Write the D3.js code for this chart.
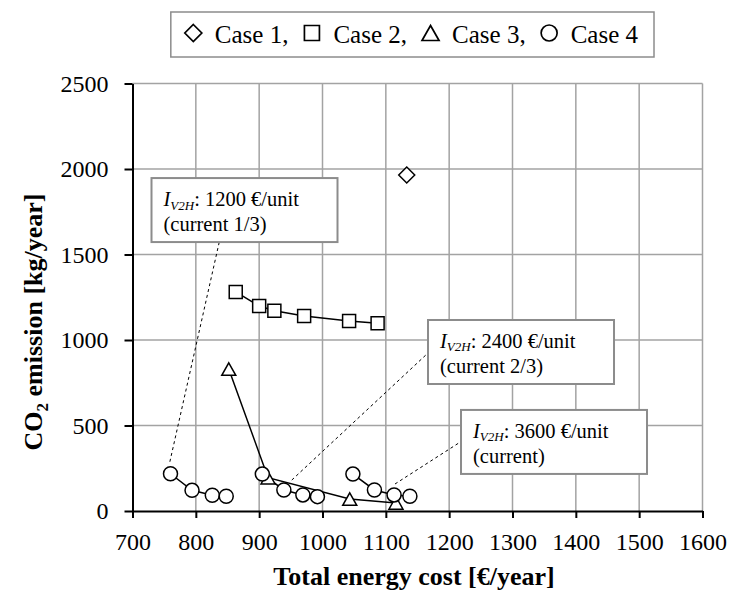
<!DOCTYPE html>
<html>
<head>
<meta charset="utf-8">
<script src="https://cdn.jsdelivr.net/npm/d3@7"></script>
<style>
  body { margin: 0; background: #fff; }
  svg { display: block; }
</style>
</head>
<body>
<svg id="chart" width="729" height="594"></svg>
<script>
// ---- data ----
const xTicks = [700, 800, 900, 1000, 1100, 1200, 1300, 1400, 1500, 1600];
const yTicks = [0, 500, 1000, 1500, 2000, 2500];

// Case 1: single reference point
const case1Cost = [1133];
const case1Co2  = [1965];

// Case 2
const case2Cost = [863, 900, 924, 971, 1042, 1087];
const case2Co2  = [1281, 1199, 1171, 1140, 1111, 1098];

// Case 3
const case3Cost = [852, 914, 1043, 1116];
const case3Co2  = [830, 195, 70, 47];

// Case 4: one run per V2H investment level
const case4Cost = [
  [760, 794, 826, 848],
  [905, 939, 969, 992],
  [1048, 1082, 1113, 1138]
];
const case4Co2 = [
  [218, 121, 92, 86],
  [216, 123, 94, 84],
  [216, 123, 94, 86]
];

const legendLabels = ["Case 1,", "Case 2,", "Case 3,", "Case 4"];
const noteCosts = ["1200", "2400", "3600"];
const noteShares = ["(current 1/3)", "(current 2/3)", "(current)"];

// ---- layout ----
const serif = "'Liberation Serif', 'Times New Roman', serif";
const svg = d3.select("#chart");
const x = d3.scaleLinear().domain([700, 1600]).range([132.5, 702.5]);
const y = d3.scaleLinear().domain([0, 2500]).range([511, 83.5]);

// box placement (data units for the corner, pixels for size) and leader ends
const noteLayout = [
  { bx: 730,    by: 1947, from: [759, 288],   to: [837, 1573] },
  { bx: 1166.6, by: 1117, from: [951.5, 181], to: [1166.6, 924] },
  { bx: 1218.7, by: 591,  from: [1114.5, 158], to: [1218.7, 406] }
];
const noteW = 186, noteH = 64;

// ---- grid ----
const grid = svg.append("g").attr("stroke", "#a3a3a3").attr("stroke-width", 1.5);
grid.selectAll("line.v").data(xTicks.slice(1)).join("line")
  .attr("x1", d => x(d)).attr("x2", d => x(d))
  .attr("y1", y(0)).attr("y2", y(2500));
grid.selectAll("line.h").data(yTicks.slice(1)).join("line")
  .attr("x1", x(700)).attr("x2", x(1600))
  .attr("y1", d => y(d)).attr("y2", d => y(d));

// ---- leader lines ----
svg.append("g").selectAll("line").data(noteLayout).join("line")
  .attr("x1", d => x(d.from[0])).attr("y1", d => y(d.from[1]))
  .attr("x2", d => x(d.to[0])).attr("y2", d => y(d.to[1]))
  .attr("stroke", "#000").attr("stroke-width", 1)
  .attr("stroke-dasharray", "3,3");

// ---- marker shapes ----
const diamondPath = r => `M0,${-r}L${r},0L0,${r}L${-r},0Z`;
const squarePath = s => `M${-s/2},${-s/2}h${s}v${s}h${-s}Z`;
const trianglePath = (w, h) => `M0,${-h/2}L${w/2},${h/2}L${-w/2},${h/2}Z`;

function drawLine(g, xs, ys) {
  const pts = xs.map((v, i) => [x(v), y(ys[i])]);
  g.append("path").attr("d", d3.line()(pts))
    .attr("fill", "none").attr("stroke", "#000").attr("stroke-width", 1.5);
}
function drawMarkers(g, xs, ys, path) {
  g.selectAll(null).data(xs.map((v, i) => [v, ys[i]])).join("path")
    .attr("transform", d => `translate(${x(d[0])},${y(d[1])})`)
    .attr("d", path)
    .attr("fill", "#fff").attr("stroke", "#000").attr("stroke-width", 1.5);
}

const series = svg.append("g");
drawLine(series, case2Cost, case2Co2);
drawLine(series, case3Cost, case3Co2);
case4Cost.forEach((run, i) => drawLine(series, run, case4Co2[i]));

drawMarkers(series, case1Cost, case1Co2, diamondPath(8));
drawMarkers(series, case2Cost, case2Co2, squarePath(13));
drawMarkers(series, case3Cost, case3Co2, trianglePath(14, 12.5));
case4Cost.forEach((run, i) => {
  series.selectAll(null).data(run.map((v, j) => [v, case4Co2[i][j]])).join("circle")
    .attr("cx", d => x(d[0])).attr("cy", d => y(d[1])).attr("r", 7)
    .attr("fill", "#fff").attr("stroke", "#000").attr("stroke-width", 1.5);
});

// ---- axes ----
const xAxis = svg.append("g").attr("transform", `translate(0,${y(0)})`)
  .call(d3.axisBottom(x).tickValues(xTicks).tickSize(7).tickSizeOuter(0).tickPadding(15).tickFormat(d3.format("d")));
const yAxis = svg.append("g").attr("transform", `translate(${x(700)},0)`)
  .call(d3.axisLeft(y).tickValues(yTicks).tickSize(8).tickSizeOuter(0).tickPadding(16).tickFormat(d3.format("d")));
[xAxis, yAxis].forEach(a => {
  a.attr("font-family", null).attr("font-size", null);
  a.select(".domain").attr("stroke", "#000").attr("stroke-width", 2);
  a.selectAll(".tick line").attr("stroke", "#000").attr("stroke-width", 2);
  a.selectAll(".tick text").attr("fill", "#000")
    .style("font-family", serif).style("font-size", "24px");
});

// axis titles
svg.append("text")
  .attr("x", 414).attr("y", 585)
  .attr("text-anchor", "middle")
  .style("font-family", serif).style("font-size", "26px").style("font-weight", "bold")
  .text("Total energy cost [€/year]");

const yTitle = svg.append("text")
  .attr("transform", "translate(42,322) rotate(-90)")
  .attr("text-anchor", "middle")
  .style("font-family", serif).style("font-size", "26px").style("font-weight", "bold");
yTitle.append("tspan").text("CO");
yTitle.append("tspan").attr("dy", 6).style("font-size", "17px").text("2");
yTitle.append("tspan").attr("dy", -6).text(" emission [kg/year]");

// ---- annotation boxes ----
noteLayout.forEach((n, i) => {
  const g = svg.append("g").attr("transform", `translate(${x(n.bx)},${y(n.by)})`);
  g.append("rect").attr("width", noteW).attr("height", noteH)
    .attr("fill", "#fff").attr("stroke", "#8c8c8c").attr("stroke-width", 2);
  const t1 = g.append("text").attr("x", 12).attr("y", 28)
    .style("font-family", serif).style("font-size", "20.5px");
  t1.append("tspan").style("font-style", "italic").text("I");
  t1.append("tspan").style("font-style", "italic").style("font-size", "13px").attr("dy", 3.5).text("V2H");
  t1.append("tspan").attr("dy", -3.5).text(`: ${noteCosts[i]} €/unit`);
  g.append("text").attr("x", 12).attr("y", 53)
    .style("font-family", serif).style("font-size", "20.5px")
    .text(noteShares[i]);
});

// ---- legend ----
const legend = svg.append("g");
const legendShapes = [
  g => g.append("path").attr("d", diamondPath(8.5)),
  g => g.append("path").attr("d", squarePath(15)),
  g => g.append("path").attr("d", trianglePath(17, 15)),
  g => g.append("circle").attr("r", 8)
];
const legendBox = legend.append("rect").attr("fill", "#fff").attr("stroke", "#8c8c8c").attr("stroke-width", 1.5);
let cx = 0;
const items = legend.append("g");
const symW = 17, symGap = 13, itemGap = 15;
legendLabels.forEach((lab, i) => {
  const s = items.append("g").attr("transform", `translate(${cx + symW / 2},33)`)
    .attr("fill", "none").attr("stroke", "#000").attr("stroke-width", 1.7);
  legendShapes[i](s);
  const t = items.append("text").attr("x", cx + symW + symGap).attr("y", 43)
    .style("font-family", serif).style("font-size", "25px").text(lab);
  cx += symW + symGap + t.node().getComputedTextLength() + itemGap;
});
const totalW = cx - itemGap;
const legendRight = 654;
const legendLeft = legendRight - totalW - 30;
items.attr("transform", `translate(${legendLeft + 14},0)`);
legendBox.attr("x", legendLeft).attr("y", 12)
  .attr("width", totalW + 30).attr("height", 45);
</script>
</body>
</html>
